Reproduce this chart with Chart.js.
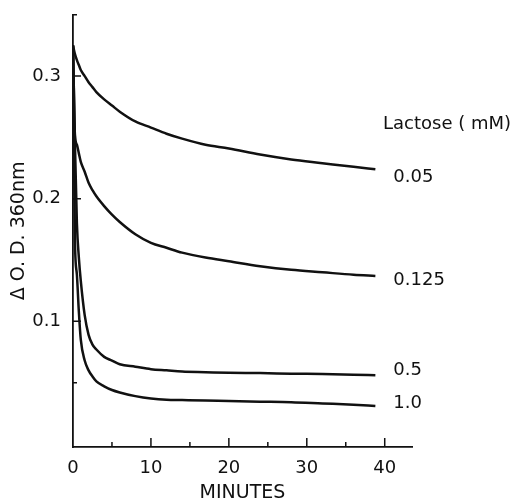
<!DOCTYPE html>
<html>
<head>
<meta charset="utf-8">
<script src="https://cdn.jsdelivr.net/npm/chart.js@4"></script>
<style>
  html, body { margin: 0; padding: 0; background: #fff; }
  #wrap { width: 519px; height: 501px; }
</style>
</head>
<body>
<div id="wrap"><canvas id="odChart" width="519" height="501"></canvas></div>
<script>
// Data
const minutes = [0, 0.25, 0.5, 0.75, 1, 1.5, 2, 2.5, 3, 4, 5, 6, 8, 10, 12, 14, 17, 20, 24, 28, 32, 36, 38.8];
const lactoseLabels = ["0.05", "0.125", "0.5", "1.0"];
const od005  = [0.325, 0.318, 0.313, 0.309, 0.305, 0.300, 0.295, 0.291, 0.287, 0.281, 0.276, 0.271, 0.263, 0.258, 0.253, 0.249, 0.244, 0.241, 0.236, 0.232, 0.229, 0.226, 0.224];
const od0125 = [0.325, 0.252, 0.244, 0.237, 0.230, 0.222, 0.213, 0.207, 0.202, 0.194, 0.187, 0.181, 0.171, 0.164, 0.160, 0.156, 0.152, 0.149, 0.145, 0.142, 0.140, 0.138, 0.137];
const od05   = [0.325, 0.245, 0.180, 0.152, 0.133, 0.105, 0.089, 0.081, 0.077, 0.071, 0.068, 0.065, 0.063, 0.061, 0.060, 0.059, 0.0585, 0.058, 0.0578, 0.0573, 0.057, 0.0565, 0.056];
const od10   = [0.325, 0.165, 0.138, 0.108, 0.085, 0.068, 0.060, 0.055, 0.051, 0.047, 0.044, 0.042, 0.039, 0.037, 0.036, 0.0358, 0.0355, 0.035, 0.0345, 0.034, 0.033, 0.032, 0.031];
const xTickLabels = [0, 10, 20, 30, 40];
const xMinorTicks = [5, 15, 25, 35];
const yTickLabels = [0.1, 0.2, 0.3];
const yMinorTicks = [0.05];

const allSeries = [od005, od0125, od05, od10];
const labelNudge = [8, 4, -5, -3];
const ink = "#111";
const font = "'DejaVu Sans', 'Liberation Sans', sans-serif";

// ticks point inward, drawn by hand; curve labels at the right
const figurePlugin = {
  id: "figure",
  afterDraw(chart) {
    const ctx = chart.ctx;
    const xs = chart.scales.x, ys = chart.scales.y;
    const x0 = xs.left, y0 = ys.bottom;
    ctx.save();
    ctx.strokeStyle = ink;
    ctx.lineWidth = 1.5;
    ctx.beginPath();
    xTickLabels.slice(1).forEach(v => {
      const px = xs.getPixelForValue(v);
      ctx.moveTo(px, y0); ctx.lineTo(px, y0 - 9);
    });
    xMinorTicks.forEach(v => {
      const px = xs.getPixelForValue(v);
      ctx.moveTo(px, y0); ctx.lineTo(px, y0 - 5);
    });
    yTickLabels.forEach(v => {
      const py = ys.getPixelForValue(v);
      ctx.moveTo(x0, py); ctx.lineTo(x0 + 8, py);
    });
    yMinorTicks.forEach(v => {
      const py = ys.getPixelForValue(v);
      ctx.moveTo(x0, py); ctx.lineTo(x0 + 4, py);
    });
    ctx.moveTo(x0, ys.top); ctx.lineTo(x0 + 4, ys.top);
    ctx.stroke();

    ctx.fillStyle = ink;
    ctx.font = "18px " + font;
    ctx.textBaseline = "middle";
    ctx.textAlign = "left";
    allSeries.forEach((s, i) => {
      const lastX = minutes[minutes.length - 1];
      const px = xs.getPixelForValue(lastX) + 18;
      const py = ys.getPixelForValue(s[s.length - 1]) + labelNudge[i];
      ctx.fillText(lactoseLabels[i], px, py);
    });
    ctx.fillText("Lactose ( mM)", xs.right - 29, ys.getPixelForValue(0.261));
    ctx.restore();
  }
};

new Chart(document.getElementById("odChart").getContext("2d"), {
  type: "line",
  data: {
    datasets: allSeries.map((s, i) => ({
      label: lactoseLabels[i],
      data: minutes.map((m, j) => ({ x: m, y: s[j] })),
      borderColor: ink,
      borderWidth: 2.5,
      pointRadius: 0,
      fill: false,
      cubicInterpolationMode: "monotone"
    }))
  },
  options: {
    responsive: false,
    animation: false,
    layout: { padding: { top: 13, right: 107, left: 0, bottom: 0 } },
    plugins: { legend: { display: false }, tooltip: { enabled: false } },
    scales: {
      x: {
        type: "linear",
        min: 0,
        max: 43.5,
        grid: { display: false },
        border: { display: true, color: ink, width: 1.8 },
        afterBuildTicks: scale => { scale.ticks = xTickLabels.map(v => ({ value: v })); },
        afterFit: scale => { scale.height = 54; },
        ticks: { color: ink, font: { family: font, size: 18 }, padding: 3, maxRotation: 0 },
        title: { display: true, text: "MINUTES", color: ink, font: { family: font, size: 19 }, padding: { top: 0, bottom: -3 } }
      },
      y: {
        min: -0.0025,
        max: 0.35,
        grid: { display: false },
        border: { display: true, color: ink, width: 1.8 },
        afterBuildTicks: scale => { scale.ticks = yTickLabels.map(v => ({ value: v })); },
        afterFit: scale => { scale.width = 73; },
        ticks: { color: ink, font: { family: font, size: 18 }, padding: 4, callback: v => String(v) },
        title: { display: true, text: "Δ O. D. 360nm", color: ink, font: { family: font, size: 19 }, padding: { top: 8, bottom: 0 } }
      }
    }
  },
  plugins: [figurePlugin]
});
</script>
</body>
</html>
